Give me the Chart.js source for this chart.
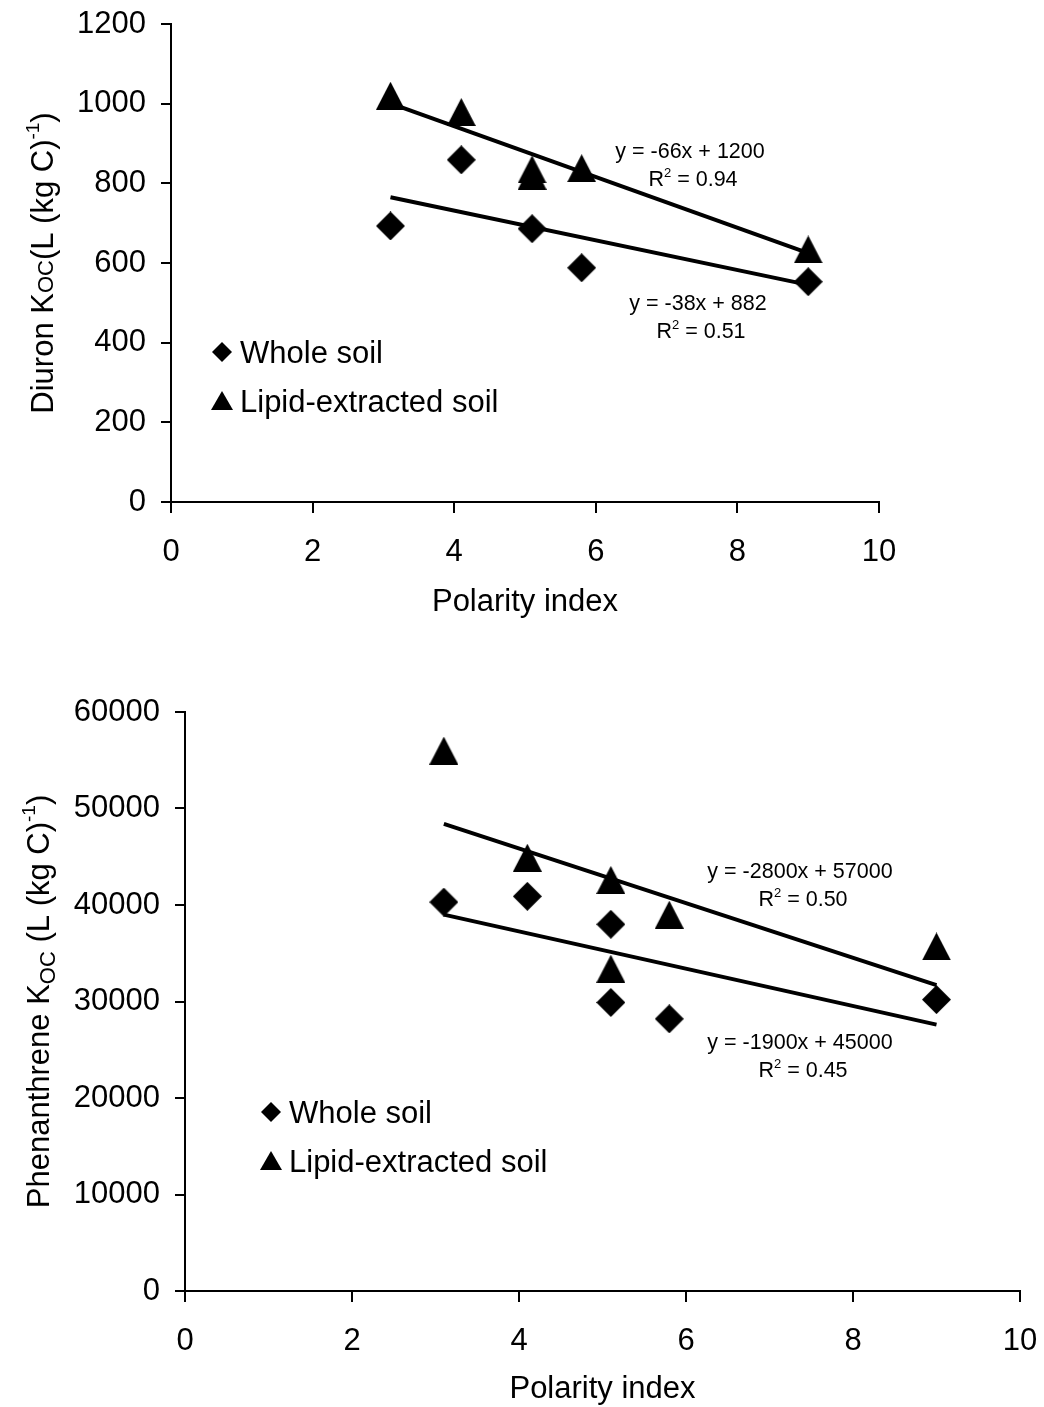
<!DOCTYPE html>
<html lang="en">
<head>
<meta charset="UTF-8">
<title>Koc vs polarity index</title>
<script src="https://cdn.jsdelivr.net/npm/chart.js"></script>
<style>
  body { margin: 0; background: #fff; }
  .wrap { position: absolute; left: 0; width: 1044px; }
  #topWrap { top: 0; height: 640px; }
  #bottomWrap { top: 680px; height: 727px; }
</style>
</head>
<body>
<div class="wrap" id="topWrap"><canvas id="diuronChart" width="1044" height="640"></canvas></div>
<div class="wrap" id="bottomWrap"><canvas id="phenChart" width="1044" height="727"></canvas></div>

<script>
// ---- data ----
const polarityTicks = [0, 2, 4, 6, 8, 10];
const diuronTicks = [0, 200, 400, 600, 800, 1000, 1200];
const phenTicks = [0, 10000, 20000, 30000, 40000, 50000, 60000];

// Diuron
const diuronWholeX = [3.1, 4.1, 5.1, 5.8, 9.0];
const diuronWholeY = [693, 859, 686, 588, 553];
const diuronLipidX = [3.1, 4.1, 5.1, 5.1, 5.8, 9.0];
const diuronLipidY = [1020, 979, 835, 819, 838, 634];
const diuronTrendX = [3.1, 9.0];
const diuronWholeTrendY = [765, 545];
const diuronLipidTrendY = [1001, 625];

// Phenanthrene
const phenWholeX = [3.1, 4.1, 5.1, 5.1, 5.8, 9.0];
const phenWholeY = [40300, 40900, 38000, 29900, 28200, 30200];
const phenLipidX = [3.1, 4.1, 5.1, 5.1, 5.8, 9.0];
const phenLipidY = [56000, 44900, 42600, 33400, 39000, 35700];
const phenTrendX = [3.1, 9.0];
const phenWholeTrendY = [39000, 27600];
const phenLipidTrendY = [48400, 31700];

const seriesNames = ['Whole soil', 'Lipid-extracted soil'];

const FONT = "'Liberation Sans', Arial, sans-serif";
const BIG = 31, EQ = 21.5;
Chart.defaults.font.family = FONT;
Chart.defaults.color = '#000';

// marker images (excel-like solid black diamond / triangle)
function diamond(size) {
  const c = document.createElement('canvas');
  c.width = size; c.height = size;
  const g = c.getContext('2d');
  g.fillStyle = '#000';
  g.beginPath();
  g.moveTo(size / 2, 0); g.lineTo(size, size / 2); g.lineTo(size / 2, size); g.lineTo(0, size / 2);
  g.closePath(); g.fill();
  return c;
}
function triangle(w, h) {
  const c = document.createElement('canvas');
  c.width = w; c.height = h;
  const g = c.getContext('2d');
  g.fillStyle = '#000';
  g.beginPath();
  g.moveTo(w / 2, 0); g.lineTo(w, h); g.lineTo(0, h);
  g.closePath(); g.fill();
  return c;
}
const bigDiamond = diamond(29), bigTriangle = triangle(29, 28);
const smallDiamond = diamond(20), smallTriangle = triangle(22, 19);

function pts(xs, ys) { return xs.map((x, i) => ({ x: x, y: ys[i] })); }

// rich text: runs of {t, size, dy}
function drawRuns(ctx, runs, x, y, align) {
  let total = 0;
  runs.forEach(r => { ctx.font = r.size + 'px ' + FONT; r.w = ctx.measureText(r.t).width; total += r.w; });
  let cx = align === 'center' ? x - total / 2 : x;
  ctx.textAlign = 'left';
  ctx.textBaseline = 'alphabetic';
  ctx.fillStyle = '#000';
  runs.forEach(r => { ctx.font = r.size + 'px ' + FONT; ctx.fillText(r.t, cx, y + (r.dy || 0)); cx += r.w; });
}

const overlay = {
  id: 'overlay',
  afterDraw(chart, args, o) {
    const ctx = chart.ctx;
    const a = chart.chartArea;
    ctx.save();
    // y axis title (rotated)
    ctx.save();
    ctx.translate(o.yTitle.x, (a.top + a.bottom) / 2);
    ctx.rotate(-Math.PI / 2);
    drawRuns(ctx, o.yTitle.runs, 0, 11, 'center');
    ctx.restore();
    // x axis title
    drawRuns(ctx, [{ t: 'Polarity index', size: BIG }], (a.left + a.right) / 2, a.bottom + o.xTitleDy + 11, 'center');
    // legend
    const L = o.legend;
    ctx.drawImage(smallDiamond, L.x - 10, L.y - 10);
    drawRuns(ctx, [{ t: seriesNames[0], size: BIG }], L.x + 18, L.y + 11, 'left');
    ctx.drawImage(smallTriangle, L.x - 11, L.y + L.gap - 10);
    drawRuns(ctx, [{ t: seriesNames[1], size: BIG }], L.x + 18, L.y + L.gap + 11, 'left');
    // trend equations
    o.eqs.forEach(e => {
      drawRuns(ctx, [{ t: e.eq, size: EQ }], e.x, e.y + 8, 'center');
      drawRuns(ctx, [{ t: 'R', size: EQ }, { t: '2', size: 13, dy: -9 }, { t: ' = ' + e.r2, size: EQ }], e.x + 3, e.y + 36, 'center');
    });
    ctx.restore();
  }
};

function axisX(height) {
  return {
    type: 'linear', min: 0, max: 10,
    afterBuildTicks: s => { s.ticks = polarityTicks.map(v => ({ value: v })); },
    afterFit: s => { s.height = height; s.paddingLeft = 0; s.paddingRight = 0; },
    grid: { display: true, drawOnChartArea: false, drawTicks: true, tickLength: 11, color: '#000', lineWidth: 2 },
    border: { display: true, color: '#000', width: 2 },
    ticks: { font: { size: BIG }, padding: 21, maxRotation: 0, autoSkip: false, callback: v => String(v) }
  };
}
function axisY(ticks, width) {
  return {
    type: 'linear', min: ticks[0], max: ticks[ticks.length - 1],
    afterBuildTicks: s => { s.ticks = ticks.map(v => ({ value: v })); },
    afterFit: s => { s.width = width; s.paddingTop = 0; s.paddingBottom = 0; },
    grid: { display: true, drawOnChartArea: false, drawTicks: true, tickLength: 10, color: '#000', lineWidth: 2 },
    border: { display: true, color: '#000', width: 2 },
    ticks: { font: { size: BIG }, padding: 15, autoSkip: false, callback: v => String(v) }
  };
}

function makeChart(id, d, yTicks, yWidth, xHeight, pad, overlayOpts) {
  return new Chart(document.getElementById(id), {
    type: 'scatter',
    data: {
      datasets: [
        { label: 'whole trend', data: pts(d.trendX, d.wholeTrend), showLine: true, borderColor: '#000', borderWidth: 4, pointRadius: 0 },
        { label: 'lipid trend', data: pts(d.trendX, d.lipidTrend), showLine: true, borderColor: '#000', borderWidth: 4, pointRadius: 0 },
        { label: seriesNames[0], data: pts(d.wholeX, d.wholeY), pointStyle: bigDiamond, pointRadius: 15 },
        { label: seriesNames[1], data: pts(d.lipidX, d.lipidY), pointStyle: bigTriangle, pointRadius: 15 }
      ]
    },
    options: {
      responsive: false,
      animation: false,
      layout: { padding: pad },
      plugins: { legend: { display: false }, tooltip: { enabled: false }, overlay: overlayOpts },
      scales: { x: axisX(xHeight), y: axisY(yTicks, yWidth) }
    },
    plugins: [overlay]
  });
}

makeChart('diuronChart',
  { wholeX: diuronWholeX, wholeY: diuronWholeY, lipidX: diuronLipidX, lipidY: diuronLipidY,
    trendX: diuronTrendX, wholeTrend: diuronWholeTrendY, lipidTrend: diuronLipidTrendY },
  diuronTicks, 171, 138, { left: 0, top: 24, right: 165, bottom: 0 },
  {
    yTitle: { x: 42, runs: [{ t: 'Diuron K', size: BIG }, { t: 'OC', size: 22 }, { t: '(L (kg C)', size: BIG }, { t: '-1', size: 19, dy: -14 }, { t: ')', size: BIG }] },
    xTitleDy: 98,
    legend: { x: 222, y: 352, gap: 49 },
    eqs: [
      { eq: 'y = -66x + 1200', r2: '0.94', x: 690, y: 150 },
      { eq: 'y = -38x + 882', r2: '0.51', x: 698, y: 302 }
    ]
  });

makeChart('phenChart',
  { wholeX: phenWholeX, wholeY: phenWholeY, lipidX: phenLipidX, lipidY: phenLipidY,
    trendX: phenTrendX, wholeTrend: phenWholeTrendY, lipidTrend: phenLipidTrendY },
  phenTicks, 185, 116, { left: 0, top: 32, right: 24, bottom: 0 },
  {
    yTitle: { x: 38, runs: [{ t: 'Phenanthrene K', size: BIG }, { t: 'OC', size: 22, dy: 6 }, { t: ' (L (kg C)', size: BIG }, { t: '-1', size: 19, dy: -14 }, { t: ')', size: BIG }] },
    xTitleDy: 96,
    legend: { x: 271, y: 1112 - 680, gap: 49 },
    eqs: [
      { eq: 'y = -2800x + 57000', r2: '0.50', x: 800, y: 870 - 680 },
      { eq: 'y = -1900x + 45000', r2: '0.45', x: 800, y: 1041 - 680 }
    ]
  });
</script>
</body>
</html>
